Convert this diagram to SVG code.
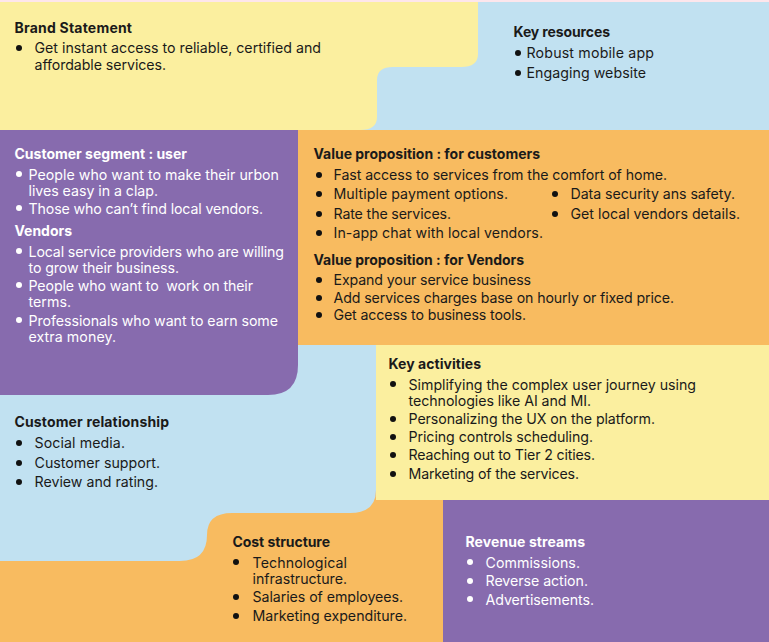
<svg xmlns="http://www.w3.org/2000/svg" width="769" height="642" viewBox="0 0 769 642">
<style>
text{font-family:"Inter","Open Sans","Liberation Sans",sans-serif;font-size:14.2px;fill:#1a1a1a}
.h{font-weight:700;font-size:14px}
.w text{fill:#fff}
.w circle{fill:#fff}
circle{fill:#111}
.blue{fill:#c1e1f1}.yellow{fill:#fbef9f}.orange{fill:#f8bb60}.purple{fill:#876bae}
</style>
<rect width="769" height="642" fill="#c1e1f1"/>
<rect width="769" height="2" fill="#fde6ec"/>
<g id="key-resources">
<path class="blue" d="M478 2H769V130H377V80Q377 67 393 67H478Z"/>
<text class="h" x="513.5" y="37" textLength="96.500">Key resources</text>
<circle cx="518" cy="53" r="3"/><text x="526.5" y="58" textLength="127.500">Robust mobile app</text>
<circle cx="518" cy="73" r="3"/><text x="526.5" y="78" textLength="119.500">Engaging website</text>
</g>
<g id="brand-statement">
<path class="yellow" d="M0 2H478V54Q478 67 461 67H393Q377 67 377 80V117Q377 130 360 130H0Z"/>
<text class="h" x="14.500" y="33" textLength="117.500">Brand Statement</text>
<circle cx="19" cy="48" r="3"/><text x="34.500" y="53" textLength="286.500">Get instant access to reliable, certified and</text>
<text x="34.500" y="70" textLength="131.500">affordable services.</text>
</g>
<g id="customer-relationship">
<path class="blue" d="M0 345H376V490Q376 513 350 513H232Q207 513 207 535Q207 561 180 561H0Z"/>
<text class="h" x="14.500" y="427" textLength="154.500">Customer relationship</text>
<circle cx="19" cy="443" r="3"/><text x="34.500" y="448" textLength="90.500">Social media.</text>
<circle cx="19" cy="463" r="3"/><text x="34.500" y="468" textLength="125.500">Customer support.</text>
<circle cx="19" cy="482" r="3"/><text x="34.500" y="487" textLength="123.500">Review and rating.</text>
</g>
<g id="customer-segment" class="w">
<path class="purple" d="M0 130H298V365Q298 395 268 395H0Z"/>
<text class="h" x="14.500" y="159" textLength="172.500">Customer segment : user</text>
<circle cx="19" cy="174" r="3"/><text x="28.500" y="180" textLength="250.500">People who want to make their urbon</text>
<text x="28.500" y="196" textLength="129.500">lives easy in a clap.</text>
<circle cx="19" cy="208" r="3"/><text x="28.500" y="214" textLength="234.500">Those who can’t find local vendors.</text>
<text class="h" x="14.500" y="236" textLength="57.500">Vendors</text>
<circle cx="19" cy="251" r="3"/><text x="28.500" y="257" textLength="255.500">Local service providers who are willing</text>
<text x="28.500" y="273" textLength="150.500">to grow their business.</text>
<circle cx="19" cy="285" r="3"/><text x="28.500" y="291" textLength="224.500" xml:space="preserve">People who want to  work on their</text>
<text x="28.500" y="307" textLength="42.500">terms.</text>
<circle cx="19" cy="320" r="3"/><text x="28.500" y="326" textLength="249.500">Professionals who want to earn some</text>
<text x="28.500" y="342" textLength="87.500">extra money.</text>
</g>
<g id="value-proposition">
<rect class="orange" x="298" y="130" width="471" height="215"/>
<text class="h" x="313.500" y="159" textLength="226.500">Value proposition : for customers</text>
<circle cx="319" cy="175" r="3"/><text x="333.500" y="180" textLength="333.500">Fast access to services from the comfort of home.</text>
<circle cx="319" cy="194" r="3"/><text x="333.500" y="199" textLength="174.500">Multiple payment options.</text>
<circle cx="555" cy="194" r="3"/><text x="570.500" y="199" textLength="164.500">Data security ans safety.</text>
<circle cx="319" cy="214" r="3"/><text x="333.500" y="219" textLength="117.500">Rate the services.</text>
<circle cx="555" cy="214" r="3"/><text x="570.500" y="219" textLength="169.500">Get local vendors details.</text>
<circle cx="319" cy="233" r="3"/><text x="333.500" y="238" textLength="209.500">In-app chat with local vendors.</text>
<text class="h" x="313.500" y="265" textLength="210.500">Value proposition : for Vendors</text>
<circle cx="319" cy="280" r="3"/><text x="333.500" y="285" textLength="197.500">Expand your service business</text>
<circle cx="319" cy="298" r="3"/><text x="333.500" y="303" textLength="340.500">Add services charges base on hourly or fixed price.</text>
<circle cx="319" cy="315" r="3"/><text x="333.500" y="320" textLength="192.500">Get access to business tools.</text>
</g>
<g id="key-activities">
<rect class="yellow" x="376" y="345" width="393" height="155"/>
<text class="h" x="388.500" y="369" textLength="92.500">Key activities</text>
<circle cx="393" cy="384" r="3"/><text x="408.500" y="390" textLength="287.500">Simplifying the complex user journey using</text>
<text x="408.500" y="406" textLength="182.500">technologies like AI and MI.</text>
<circle cx="393" cy="419" r="3"/><text x="408.500" y="424" textLength="246.500">Personalizing the UX on the platform.</text>
<circle cx="393" cy="437" r="3"/><text x="408.500" y="442" textLength="184.500">Pricing controls scheduling.</text>
<circle cx="393" cy="455" r="3"/><text x="408.500" y="460" textLength="186.500">Reaching out to Tier 2 cities.</text>
<circle cx="393" cy="474" r="3"/><text x="408.500" y="479" textLength="170.500">Marketing of the services.</text>
</g>
<g id="cost-structure">
<path class="orange" d="M0 561H180Q207 561 207 535Q207 513 232 513H350Q376 513 376 490V500H443V642H0Z"/>
<text class="h" x="232.500" y="547" textLength="97.500">Cost structure</text>
<circle cx="236" cy="562" r="3"/><text x="252.500" y="568" textLength="94.500">Technological</text>
<text x="252.500" y="584" textLength="94.500">infrastructure.</text>
<circle cx="236" cy="597" r="3"/><text x="252.500" y="602" textLength="150.500">Salaries of employees.</text>
<circle cx="236" cy="616" r="3"/><text x="252.500" y="621" textLength="154.500">Marketing expenditure.</text>
</g>
<g id="revenue-streams" class="w">
<rect class="purple" x="443" y="500" width="326" height="142"/>
<text class="h" x="465.500" y="547" textLength="119.500">Revenue streams</text>
<circle cx="470" cy="562" r="3"/><text x="485.500" y="568" textLength="94.500">Commissions.</text>
<circle cx="470" cy="581" r="3"/><text x="485.500" y="586" textLength="102.500">Reverse action.</text>
<circle cx="470" cy="599" r="3"/><text x="485.500" y="605" textLength="108.500">Advertisements.</text>
</g>
<g id="connectors"/>
</svg>
